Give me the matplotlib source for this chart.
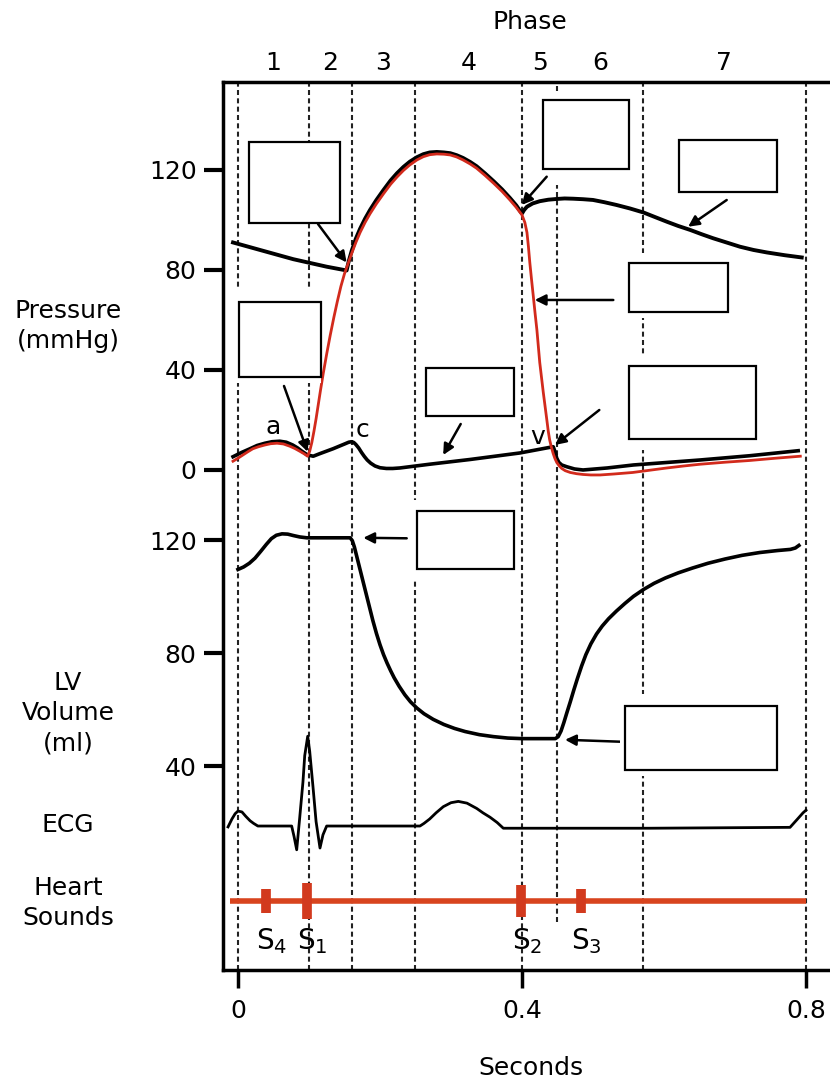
import matplotlib
matplotlib.use('Agg')
import matplotlib.pyplot as plt
from matplotlib.patches import Rectangle
from matplotlib.transforms import blended_transform_factory

plt.rcParams['font.family'] = ['DejaVu Sans']
plt.rcParams['font.size'] = 18

# ---- data (time in seconds) ----
phase_edges = [0.0, 0.10, 0.16, 0.25, 0.40, 0.45, 0.57, 0.80]
phase_labels = ['1', '2', '3', '4', '5', '6', '7']

# aortic pressure, mmHg
aortic_t = [-0.007, 0.031, 0.078, 0.125, 0.153, 0.156, 0.160, 0.166, 0.172, 0.179,
            0.186, 0.195, 0.205, 0.215, 0.224, 0.233, 0.242, 0.252, 0.261, 0.270,
            0.280, 0.290, 0.299, 0.308, 0.317, 0.327, 0.336, 0.348, 0.360, 0.372,
            0.383, 0.392, 0.398, 0.400, 0.403, 0.407, 0.415, 0.425, 0.437, 0.449,
            0.460, 0.472, 0.486, 0.500, 0.516, 0.533, 0.552, 0.571, 0.587, 0.604,
            0.620, 0.637, 0.653, 0.669, 0.688, 0.707, 0.726, 0.745, 0.770, 0.794]
aortic_p = [91, 88, 84.3, 81.3, 79.8, 83.5, 87.5, 92.5, 96.5, 100.5,
            104, 108, 112, 115.8, 118.7, 121.2, 123.3, 125.1, 126.3, 127,
            127.2, 127, 126.7, 125.9, 124.8, 123.2, 121.5, 118.6, 115.5, 112.2,
            108.8, 105.8, 103.3, 102.6, 104, 105.3, 106.6, 107.5, 108.1, 108.4,
            108.6, 108.5, 108.3, 108, 107.1, 106, 104.6, 103, 101.2, 99.3,
            97.6, 96, 94.3, 92.7, 91, 89.3, 88, 87, 85.9, 85]

# left ventricular pressure, mmHg
lv_t = [-0.007, 0.0, 0.007, 0.014, 0.021, 0.029, 0.038, 0.046, 0.055, 0.064,
        0.073, 0.080, 0.087, 0.093, 0.098, 0.101, 0.104, 0.107, 0.110, 0.113,
        0.116, 0.120, 0.125, 0.130, 0.135, 0.140, 0.145, 0.150, 0.155, 0.160,
        0.166, 0.172, 0.179, 0.186, 0.195, 0.205, 0.215, 0.224, 0.233, 0.242,
        0.252, 0.261, 0.270, 0.280, 0.290, 0.299, 0.308, 0.317, 0.327, 0.336,
        0.348, 0.360, 0.372, 0.383, 0.392, 0.400, 0.404, 0.407, 0.409, 0.411,
        0.4135, 0.416, 0.4185, 0.421, 0.423, 0.425, 0.4275, 0.430, 0.4325, 0.435,
        0.437, 0.439, 0.4415, 0.444, 0.4465, 0.449, 0.452, 0.456, 0.461, 0.468,
        0.477, 0.486, 0.497, 0.510, 0.530, 0.556, 0.580, 0.604, 0.628, 0.651,
        0.686, 0.721, 0.757, 0.792]
lv_p = [3.5, 4.7, 6, 7.3, 8.5, 9.3, 10, 10.5, 10.7, 10.4,
        9.5, 8.6, 7.5, 6.5, 5.5, 7.5, 11, 15.5, 20.5, 26,
        31.5, 38.5, 46.5, 54, 61, 67.5, 73.5, 78.5, 82.5, 86.5,
        91, 95, 99, 102.5, 106.5, 110.5, 114.3, 117.2, 119.8, 122,
        124, 125.3, 126.1, 126.4, 126.3, 126, 125.2, 124, 122.4, 120.7,
        117.8, 114.7, 111.4, 108, 105, 102, 99, 95, 89.5, 83,
        76, 69.3, 62.5, 56, 49.5, 43, 37, 31, 25.5, 20,
        15.5, 12, 9, 6.5, 4.5, 3, 1.8, 0.6, -0.3, -1,
        -1.5, -1.8, -2, -2, -1.6, -1, -0.1, 0.8, 1.6, 2.3,
        3.1, 3.8, 4.7, 5.5]

# left atrial pressure, mmHg
atrial_t = [-0.007, 0.005, 0.017, 0.027, 0.038, 0.048, 0.059, 0.068, 0.077, 0.084,
            0.090, 0.098, 0.106, 0.115, 0.134, 0.151, 0.156, 0.160, 0.163, 0.166,
            0.170, 0.174, 0.178, 0.182, 0.187, 0.193, 0.200, 0.209, 0.218, 0.228,
            0.270, 0.327, 0.397, 0.444, 0.4465, 0.449, 0.452, 0.456, 0.463, 0.474,
            0.486, 0.520, 0.557, 0.604, 0.651, 0.721, 0.789]
atrial_p = [5.3, 7, 8.5, 9.8, 10.7, 11.3, 11.5, 11.1, 10, 8.8,
            7.5, 6, 5.5, 6.5, 8.5, 10.5, 11.1, 11.3, 11, 10.2,
            8.8, 7, 5.4, 4, 2.7, 1.6, 0.9, 0.6, 0.6, 0.8,
            2.3, 4.2, 6.8, 9.3, 7.3, 4.7, 3, 2, 1.3, 0.4,
            0, 0.8, 2, 3, 4, 5.7, 7.7]
wave_labels = ['a', 'c', 'v']
wave_t = [0.049, 0.176, 0.4225]
wave_p = [17.2, 16, 13.2]

# left ventricular volume, ml
vol_t = [0.0, 0.008, 0.016, 0.024, 0.032, 0.040, 0.047, 0.054, 0.062, 0.070,
         0.078, 0.087, 0.097, 0.158, 0.161, 0.164, 0.167, 0.171, 0.175, 0.180,
         0.185, 0.190, 0.195, 0.200, 0.205, 0.210, 0.215, 0.220, 0.227, 0.235,
         0.243, 0.252, 0.262, 0.275, 0.290, 0.305, 0.320, 0.340, 0.360, 0.380,
         0.400, 0.447, 0.451, 0.455, 0.459, 0.463, 0.468, 0.473, 0.478, 0.484,
         0.490, 0.497, 0.505, 0.513, 0.522, 0.533, 0.545, 0.557, 0.571, 0.586,
         0.602, 0.620, 0.640, 0.662, 0.686, 0.710, 0.735, 0.760, 0.778, 0.785,
         0.790]
vol_v = [109.6, 110.5, 111.8, 113.6, 116, 118.5, 120.5, 121.7, 122.2, 122.1,
         121.6, 121.1, 120.8, 120.8, 119.8, 117.5, 114.5, 110.5, 106.5, 101.5,
         96.5, 91.5, 87, 83, 79.5, 76.5, 73.8, 71.3, 68.3, 65.3,
         62.8, 60.6, 58.6, 56.6, 54.8, 53.4, 52.3, 51.2, 50.5, 50.0,
         49.8, 49.8, 50.5, 52.5, 55.5, 58.8, 62.8, 67, 71, 75.5,
         79.5, 83.3, 86.8, 89.6, 92.2, 94.9, 97.6, 100.1, 102.5, 104.7,
         106.6, 108.4, 110.1, 111.8, 113.3, 114.6, 115.6, 116.3, 116.7, 117.2,
         118.1]

# ECG, mV
ecg_t = [-0.014, -0.0085, -0.004, 0.0, 0.0056, 0.011, 0.017, 0.022, 0.028, 0.0756,
         0.079, 0.0827, 0.087, 0.0915, 0.094, 0.0982, 0.101, 0.1056, 0.110, 0.1155,
         0.1197, 0.1249, 0.2563, 0.262, 0.270, 0.279, 0.2892, 0.300, 0.3103, 0.3225,
         0.3362, 0.345, 0.355, 0.365, 0.3737, 0.580, 0.7775, 0.787, 0.7958, 0.800]
ecg_mv = [-0.01, 0.08, 0.14, 0.17, 0.16, 0.11, 0.06, 0.03, 0.0, 0.0,
          -0.12, -0.27, 0.1, 0.5, 0.8, 1.02, 0.85, 0.45, 0.05, -0.25,
          -0.1, 0.0, 0.0, 0.03, 0.08, 0.15, 0.22, 0.265, 0.28, 0.26,
          0.2, 0.15, 0.1, 0.04, -0.025, -0.025, -0.015, 0.07, 0.15, 0.18]

# heart sounds
sound_names = ['S$_4$', 'S$_1$', 'S$_2$', 'S$_3$']
sound_t = [0.039, 0.097, 0.399, 0.483]
sound_size = [0.27, 0.40, 0.37, 0.27]
sound_span = [-0.011, 0.800]

# ---- layout helpers (reference pixels -> figure fraction) ----
W, H = 830, 1081


def fx(x):
    return x / W


def fy(y):
    return 1 - y / H


fig = plt.figure(figsize=(8.3, 10.81), dpi=100)
rect = [fx(223), fy(970), fx(830) - fx(223), fy(81.7) - fy(970)]
xlim = (-0.0211, 0.8338)

ax = fig.add_axes(rect)
ax.set_xlim(*xlim)
ax.set_ylim(-200, 155.3)
ax.spines['right'].set_visible(False)
for s in ['left', 'top', 'bottom']:
    ax.spines[s].set_linewidth(2.5)
ax.set_yticks([0, 40, 80, 120])
ax.set_xticks([0, 0.4, 0.8])
ax.set_xticklabels(['0', '0.4', '0.8'])
ax.tick_params(axis='y', direction='out', length=14, width=3, pad=5, labelsize=18)
ax.tick_params(axis='x', direction='out', length=13, width=2.5, pad=8, labelsize=18)

axv = fig.add_axes(rect)
axv.set_xlim(*xlim)
axv.set_ylim(-32.0, 282.05)
axv.patch.set_visible(False)
for s in axv.spines.values():
    s.set_visible(False)
axv.xaxis.set_visible(False)
axv.set_yticks([40, 80, 120])
axv.tick_params(axis='y', direction='out', length=14, width=3, pad=5, labelsize=18)

axe = fig.add_axes(rect)
axe.set_xlim(*xlim)
axe.set_ylim(-1.636, 8.458)
axe.axis('off')

# phase dividers
dash = (0, (2.4, 1.6))
for t in phase_edges:
    if t == 0.45:
        ax.axvline(t, ymin=0.054, ymax=0.884, color='#222222', lw=1.5, ls=dash, zorder=1)
        ax.axvline(t, ymin=0.99, ymax=1.0, color='#222222', lw=1.5, ls=dash, zorder=1)
    else:
        ax.axvline(t, color='#222222', lw=1.5, ls=dash, zorder=1)

# pressure curves
ax.plot(atrial_t, atrial_p, color='black', lw=2.6, zorder=3)
ax.plot(aortic_t, aortic_p, color='black', lw=2.8, zorder=3)
ax.plot(lv_t, lv_p, color='#d22a1c', lw=2.0, zorder=4)
for lab, t, p in zip(wave_labels, wave_t, wave_p):
    ax.text(t, p, lab, ha='center', va='center', fontsize=18, zorder=5)

# volume
axv.plot(vol_t, vol_v, color='black', lw=2.6)

# ECG and heart sounds
axe.plot(ecg_t, ecg_mv, color='black', lw=2.0)
y_snd = -0.852
axe.plot(sound_span, [y_snd, y_snd], color='#d8441e', lw=4.0, solid_capstyle='butt')
for name, t, h in zip(sound_names, sound_t, sound_size):
    axe.vlines(t, y_snd - h / 2, y_snd + h / 2, color='#d23a1e', lw=7, capstyle='butt')
    axe.annotate(name, xy=(t, y_snd), xytext=(-7, -35), textcoords='offset points',
                 ha='left', va='baseline', fontsize=20)

# phase numbers and titles
tr = blended_transform_factory(ax.transData, fig.transFigure)
for i, lab in enumerate(phase_labels):
    mid = (phase_edges[i] + phase_edges[i + 1]) / 2
    fig.text(mid, fy(63), lab, transform=tr, ha='center', va='center', fontsize=18)
fig.text(fx(530), fy(22), 'Phase', ha='center', va='center', fontsize=18)
fig.text(fx(531), fy(1068), 'Seconds', ha='center', va='center', fontsize=18)

fig.text(fx(68), fy(326), 'Pressure\n(mmHg)', ha='center', va='center', ma='center',
         linespacing=1.35, fontsize=18)
fig.text(fx(68), fy(713), 'LV\nVolume\n(ml)', ha='center', va='center', ma='center',
         linespacing=1.33, fontsize=18)
fig.text(fx(68), fy(825), 'ECG', ha='center', va='center', fontsize=18)
fig.text(fx(68), fy(903), 'Heart\nSounds', ha='center', va='center', ma='center',
         linespacing=1.3, fontsize=18)

# empty answer boxes (pixel rects x0, y0, x1, y1) and masks behind them
boxes = [(249, 141.7, 340, 222.7), (543, 100, 629, 169), (679, 140, 777, 192),
         (629, 262.7, 728, 312), (239, 301.7, 321, 376.7), (426, 367.7, 514, 415.7),
         (629, 366, 756, 438.7), (417, 510.7, 514, 569.3), (625, 705.7, 777, 770)]
masks = [(229, 287, 321, 383), (410, 500, 520, 579), (620, 253, 735, 318),
         (620, 354, 760, 450), (620, 694, 780, 776)]
for x0, y0, x1, y1 in masks:
    fig.add_artist(Rectangle((fx(x0), fy(y1)), fx(x1) - fx(x0), fy(y0) - fy(y1),
                             transform=fig.transFigure, fc='white', ec='none', zorder=1))
for x0, y0, x1, y1 in boxes:
    fig.add_artist(Rectangle((fx(x0), fy(y1)), fx(x1) - fx(x0), fy(y0) - fy(y1),
                             transform=fig.transFigure, fc='white', ec='black',
                             lw=1.6, zorder=2))

# arrows: tail in reference pixels, tip on the curve (data)
arrows = [(ax, (318, 224), (0.153, 83)), (ax, (546.7, 176.7), (0.3996, 106)),
          (ax, (726.7, 200), (0.634, 97.3)), (ax, (613.3, 300), (0.418, 68)),
          (ax, (284, 386), (0.098, 7.3)), (ax, (460.7, 424), (0.289, 6)),
          (ax, (599.3, 410), (0.4465, 10)), (axv, (406.7, 538.3), (0.1765, 120.8)),
          (axv, (620, 741.7), (0.4606, 49.4))]
for a, tail, tip in arrows:
    a.annotate('', xy=tip, xycoords='data', xytext=(fx(tail[0]), fy(tail[1])),
               textcoords='figure fraction',
               arrowprops=dict(arrowstyle='-|>', color='black', lw=1.8,
                               mutation_scale=16, shrinkA=0, shrinkB=0), zorder=6)

fig.savefig('out.png', dpi=100)
